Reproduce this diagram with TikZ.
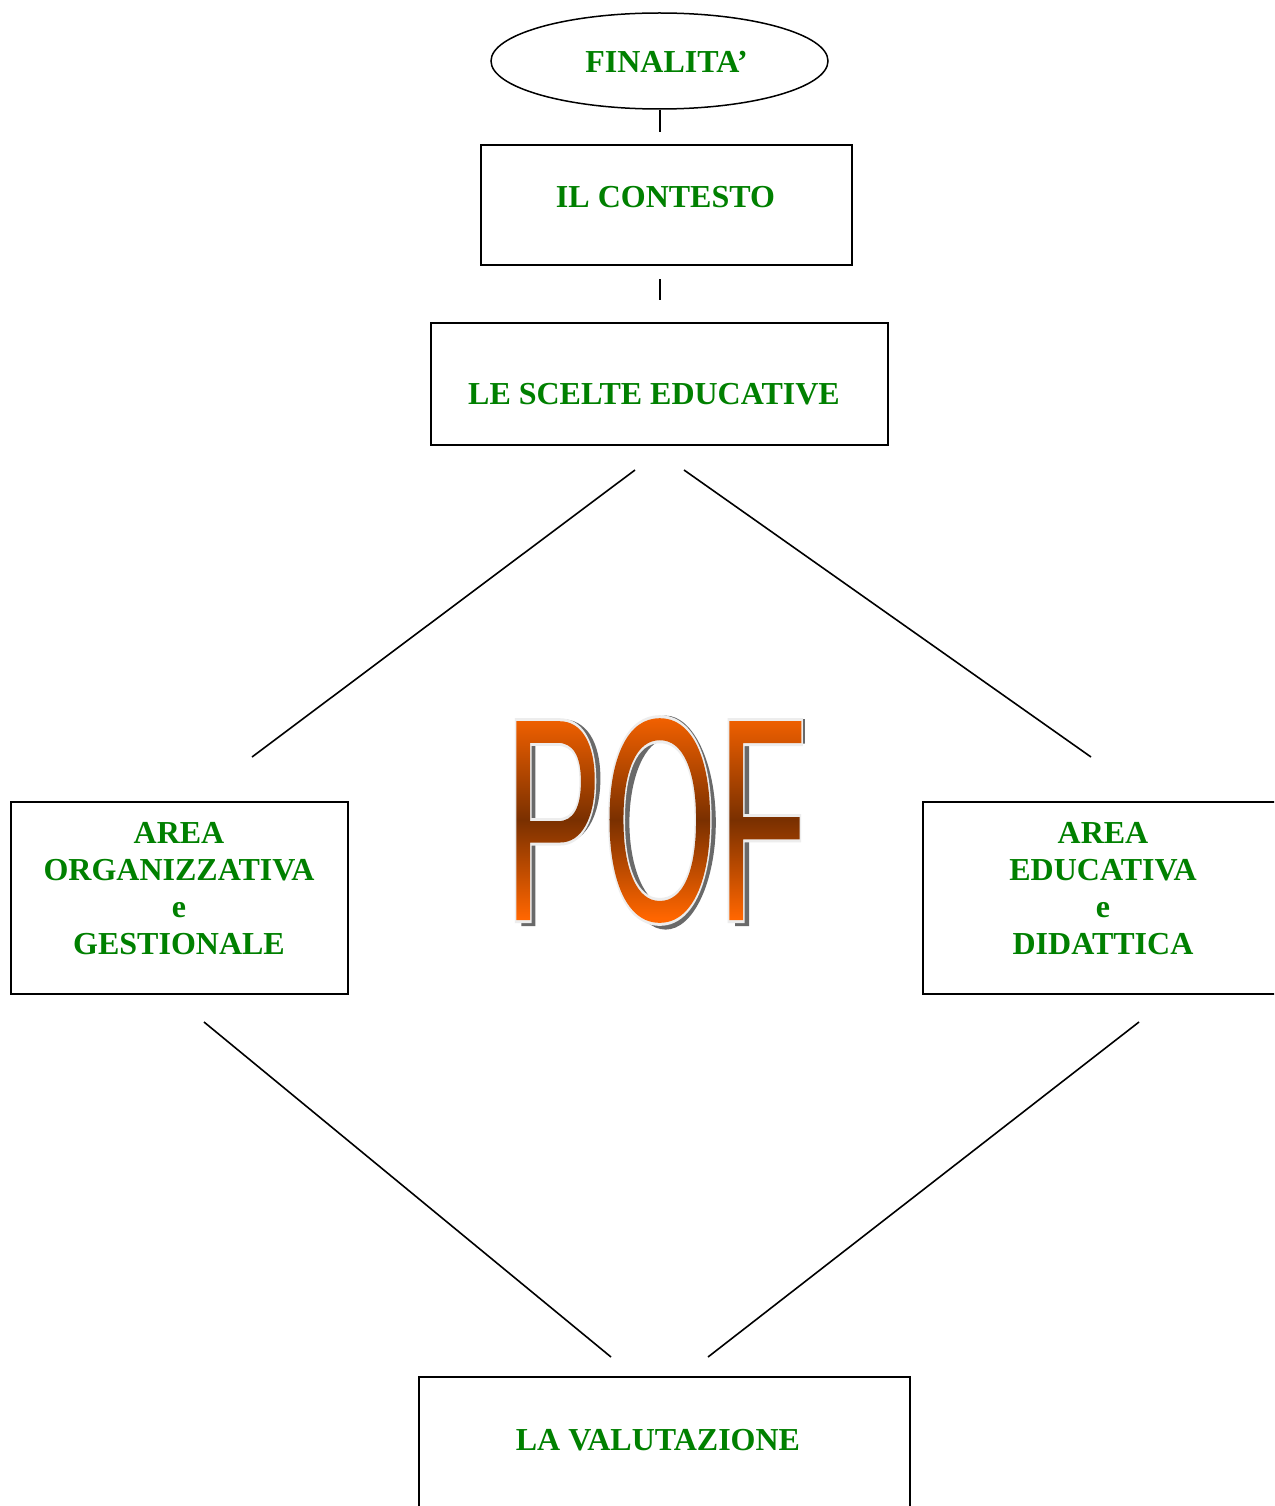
\documentclass[tikz,border=0pt]{standalone}
\usepackage{graphicx}
\usepackage{fontspec}
\setmainfont{Liberation Serif}
\newfontfamily\poffont{Liberation Sans}
\usetikzlibrary{shapes.geometric}
\definecolor{txtgreen}{RGB}{0,128,0}
\definecolor{pofo}{RGB}{255,102,0}
\definecolor{pofb}{RGB}{122,48,0}
\definecolor{pofs}{RGB}{105,105,105}
\newsavebox\pofbox
\tikzset{
  box/.style={draw, line width=2.5pt, rectangle, inner sep=0pt},
  oval/.style={draw, ellipse, line width=1.5pt, inner sep=0pt},
  lbl/.style={text=txtgreen, font=\fontsize{32}{37}\selectfont\bfseries, inner sep=0pt},
  conn/.style={line width=2pt},
  diag/.style={line width=1.6pt},
  pofshadow/.style={fill=pofs, even odd rule, shift={(6,6)}},
}
\begin{document}
\setbox\pofbox\hbox{\poffont\fontsize{289}{289}\selectfont POF}
\pgfdeclareverticalshading{pofgrad}{\the\wd\pofbox}{color(0pt)=(pofo); color(14pt)=(pofo); color(112pt)=(pofb); color(226pt)=(pofo); color(240pt)=(pofo)}
\begin{tikzpicture}[x=1pt,y=-1pt]
\useasboundingbox (0,0) rectangle (1274,1506);
\clip (0,0) rectangle (1274,1506);
\fill[white] (0,0) rectangle (1274,1506);

% shapes
\node[oval, minimum width=337pt, minimum height=96pt] (fin) at (659.5,61) {};
\node[box, minimum width=371pt, minimum height=120pt] (ctx) at (666.5,205) {};
\node[box, minimum width=457pt, minimum height=122pt] (sce) at (659.5,384) {};
\node[box, minimum width=337pt, minimum height=192pt] (org) at (179.5,898) {};
\node[box, minimum width=377pt, minimum height=192pt] (edu) at (1111.5,898) {};
\node[box, minimum width=491pt, minimum height=223pt] (val) at (664.5,1488.5) {};

% labels
\node[lbl, anchor=base] (finT) at (666.5,73) {FINALITA’};
\node[lbl, anchor=base] (ctxT) at (665.5,208) {IL CONTESTO};
\node[lbl, anchor=base] (sceT) at (654,404) {LE SCELTE EDUCATIVE};
\node[lbl, anchor=north, align=center] (orgT) at (179,822) {AREA\\ORGANIZZATIVA\\e\\GESTIONALE};
\node[lbl, anchor=north, align=center] (eduT) at (1103,822) {AREA\\EDUCATIVA\\e\\DIDATTICA};
\node[lbl, anchor=base] (valT) at (658,1450) {LA VALUTAZIONE};

% connectors
\draw[conn] (fin.south) -- ([yshift=12pt]fin.south |- ctx.north);
\draw[conn] ([yshift=-13pt]fin.south |- ctx.south) -- ([yshift=22pt]fin.south |- sce.north);

\coordinate (d1a) at (635,470);
\coordinate (d1b) at (252,757);
\coordinate (d2a) at (684,470);
\coordinate (d2b) at (1091,757);
\coordinate (d3a) at (204,1022);
\coordinate (d3b) at (611,1357);
\coordinate (d4a) at (1139,1022);
\coordinate (d4b) at (708,1357);
\draw[diag] (d1a) -- (d1b);
\draw[diag] (d2a) -- (d2b);
\draw[diag] (d3a) -- (d3b);
\draw[diag] (d4a) -- (d4b);

% POF word art: drop shadow (drawn shapes)
\fill[pofshadow] (515.4,920) -- (515.4,713.1) -- (555.2,713.1)
   .. controls (580,713.1) and (594.4,735) .. (594.4,772.5)
   .. controls (594.4,812) and (578,837.3) .. (555.2,837.3)
   -- (529.3,837.3) -- (529.3,920) -- cycle
   (529.3,737.5) -- (552,737.5)
   .. controls (572,737.5) and (580.4,752) .. (580.4,775)
   .. controls (580.4,800) and (570,812.9) .. (552,812.9)
   -- (529.3,812.9) -- cycle;
\fill[pofshadow] (659.6,816.6) ellipse [x radius=50.2, y radius=107]
   (659.6,816.5) ellipse [x radius=36.2, y radius=82.6];
\fill[pofshadow] (729.1,920) -- (729.1,713.1) -- (798.9,713.1) -- (798.9,737.5)
   -- (743.1,737.5) -- (743.1,811) -- (791.6,811) -- (791.6,835.5)
   -- (743.1,835.5) -- (743.1,920) -- cycle;
% POF word art: white-edged text filled with a vertical gradient
\node[inner sep=0pt, anchor=base west] (pof) at (504,920) {\scalebox{0.51}[1]{\special{pdf:literal direct 0.93 G 6 w 5 Tr}\usebox\pofbox\special{pdf:literal direct 0 Tr}\llap{\raisebox{-12pt}{\pgfuseshading{pofgrad}}}}};
\end{tikzpicture}
\end{document}
